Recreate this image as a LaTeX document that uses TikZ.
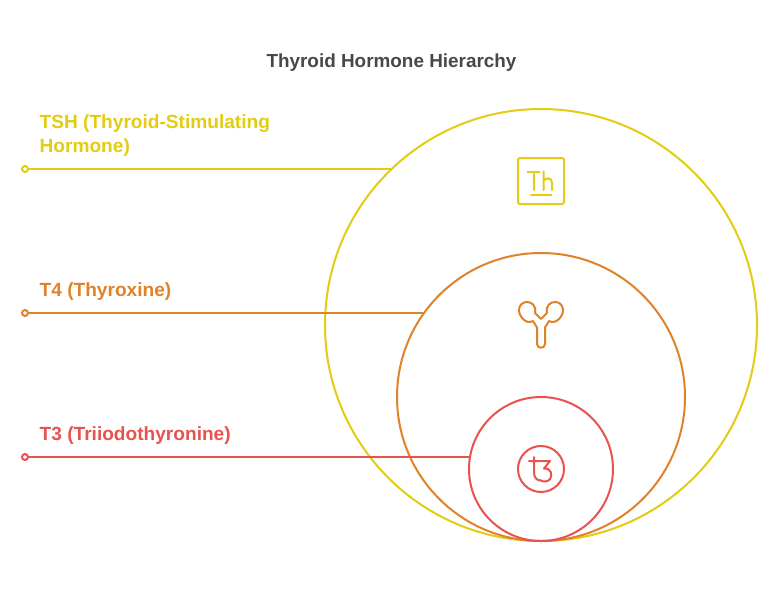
\documentclass[tikz,border=0pt]{standalone}
\usepackage{fontspec}
\setmainfont{Liberation Sans}
\definecolor{tshc}{HTML}{E3CC12}
\definecolor{tfourc}{HTML}{E08328}
\definecolor{tthreec}{HTML}{E8524F}
\definecolor{titlec}{HTML}{484848}
\tikzset{
  ring/.style={draw=#1,line width=2pt,fill=none,circle,inner sep=0pt,outer sep=0pt},
  leader/.style={draw=#1,line width=2pt},
  dotend/.style={draw=#1,line width=2pt,circle,fill=white,inner sep=0pt,outer sep=0pt,minimum size=6pt},
  lbl/.style={text=#1,font=\fontsize{19.1pt}{24pt}\selectfont\bfseries,anchor=base west,inner sep=0pt},
  icon/.style={draw=#1,line width=2pt,line cap=round,line join=round}
}
\begin{document}
\begin{tikzpicture}[x=1pt,y=-1pt]
\useasboundingbox (0,0) rectangle (782,590);
\fill[white] (0,0) rectangle (782,590);
\node[text=titlec,font=\fontsize{18.9pt}{24pt}\selectfont\bfseries,inner sep=0pt,anchor=base] (title) at (391.5,67.5) {Thyroid Hormone Hierarchy};
% circles
\node[ring=tshc,minimum size=432pt] (big) at (541,325) {};
\node[ring=tfourc,minimum size=288pt] (mid) at (541,397) {};
\node[ring=tthreec,minimum size=144pt] (small) at (541,469) {};
% labels
\node[lbl=tshc] (ltsh) at (39.5,128) {TSH (Thyroid-Stimulating};
\node[lbl=tshc] (ltshb) at (39.5,152) {Hormone)};
\node[lbl=tfourc] (lt4) at (39.5,296) {T4 (Thyroxine)};
\node[lbl=tthreec] (lt3) at (39.5,440) {T3 (Triiodothyronine)};
% leaders
\coordinate (a1) at (391,169);
\coordinate (a2) at (423.5,313);
\coordinate (a3) at (469,457);
\node[dotend=tshc] (d1) at (25,169) {};
\node[dotend=tfourc] (d2) at (25,313) {};
\node[dotend=tthreec] (d3) at (25,457) {};
\draw[leader=tshc] (d1) -- (a1);
\draw[leader=tfourc] (d2) -- (a2);
\draw[leader=tthreec] (d3) -- (a3);
% Th icon
\draw[icon=tshc,rounded corners=2pt] (518,158) rectangle (564,204);
\draw[icon=tshc] (527.5,171.5) -- (539.5,171.5) (533.5,171.5) -- (533.5,190);
\draw[icon=tshc] (543.5,171.5) -- (543.5,190) (543.5,181) .. controls (545,177.5) and (552,177) .. (552,182.5) -- (552,190);
\draw[icon=tshc] (531,195) -- (551.5,195);
% thyroid icon
\draw[icon=tfourc] (537,344) -- (537,327.5) -- (533,321)
  .. controls (526,325) and (518.5,316) .. (519,309.5)
  .. controls (519.5,304.5) and (523,302) .. (527,302)
  .. controls (532,302) and (536.5,306) .. (535,313)
  -- (541,319) -- (547,313)
  .. controls (545.5,306) and (550,302) .. (555,302)
  .. controls (559,302) and (562.5,304.5) .. (563,309.5)
  .. controls (563.5,316) and (556,325) .. (549,321)
  -- (545,327.5) -- (545,344)
  .. controls (545,349) and (537,349) .. (537,344) -- cycle;
% t3 icon
\node[draw=tthreec,line width=2pt,circle,inner sep=0pt,outer sep=0pt,minimum size=46pt] (c3) at (541,469) {};
\draw[icon=tthreec] (529,461) -- (540,461)
  (534,457) -- (534,472) .. controls (534,478) and (537,480.5) .. (541,480.5);
\draw[icon=tthreec] (541,461) -- (550,461) -- (544,468.5)
  .. controls (551,468) and (553,475) .. (550,479)
  .. controls (548,482) and (543,482) .. (541,480.5);
\end{tikzpicture}
\end{document}
